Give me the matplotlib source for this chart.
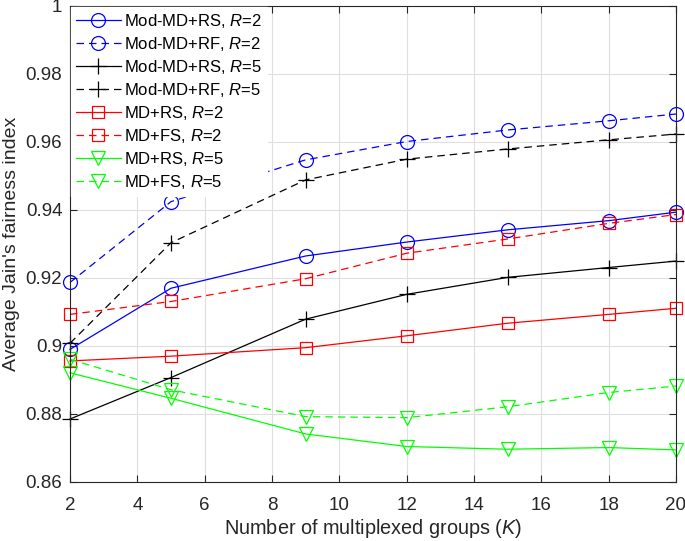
import matplotlib
matplotlib.use("Agg")
import matplotlib.pyplot as plt

plt.rcParams['font.family'] = ['Liberation Sans', 'DejaVu Sans']
plt.rcParams['mathtext.fontset'] = 'custom'
plt.rcParams['mathtext.it'] = 'Liberation Sans:italic'
plt.rcParams['mathtext.rm'] = 'Liberation Sans'

K = [2, 5, 9, 12, 15, 18, 20]

mod_md_rs_r2 = [0.8989, 0.9169, 0.9264, 0.9305, 0.9341, 0.9368, 0.9393]
mod_md_rf_r2 = [0.9186, 0.9424, 0.9547, 0.9601, 0.9635, 0.9662, 0.9682]
mod_md_rs_r5 = [0.8784, 0.8906, 0.9078, 0.9151, 0.9201, 0.9230, 0.9249]
mod_md_rf_r5 = [0.9007, 0.9303, 0.9488, 0.9549, 0.9579, 0.9606, 0.9623]
md_rs_r2 = [0.8955, 0.8969, 0.8994, 0.9029, 0.9066, 0.9092, 0.9110]
md_fs_r2 = [0.9092, 0.9130, 0.9197, 0.9272, 0.9314, 0.9360, 0.9386]
md_rs_r5 = [0.8920, 0.8845, 0.8740, 0.8703, 0.8695, 0.8700, 0.8693]
md_fs_r5 = [0.8960, 0.8870, 0.8791, 0.8788, 0.8820, 0.8862, 0.8881]

labels = [r'Mod-MD+RS, $\mathit{R}$=2', r'Mod-MD+RF, $\mathit{R}$=2',
          r'Mod-MD+RS, $\mathit{R}$=5', r'Mod-MD+RF, $\mathit{R}$=5',
          r'MD+RS, $\mathit{R}$=2', r'MD+FS, $\mathit{R}$=2',
          r'MD+RS, $\mathit{R}$=5', r'MD+FS, $\mathit{R}$=5']

xticks = [2, 4, 6, 8, 10, 12, 14, 16, 18, 20]
yticks = [0.86, 0.88, 0.90, 0.92, 0.94, 0.96, 0.98, 1.0]
yticklabels = ['0.86', '0.88', '0.9', '0.92', '0.94', '0.96', '0.98', '1']

fig = plt.figure(figsize=(6.85, 5.41), dpi=100)
ax = fig.add_axes([70/685, (541-481.5)/541, (676-70)/685, (481.5-6)/541])

dash = (0, (6, 4))
series = [
    (mod_md_rs_r2, 'b', '-', 'o', 10),
    (mod_md_rf_r2, 'b', dash, 'o', 10),
    (mod_md_rs_r5, 'k', '-', '+', 12),
    (mod_md_rf_r5, 'k', dash, '+', 12),
    (md_rs_r2, 'r', '-', 's', 8),
    (md_fs_r2, 'r', dash, 's', 8),
    (md_rs_r5, '#00ff00', '-', 'v', 10),
    (md_fs_r5, '#00ff00', dash, 'v', 10),
]
for (vals, c, ls, m, ms), lab in zip(series, labels):
    ax.plot(K, vals, color=c, linestyle=ls, marker=m, markersize=ms,
            markerfacecolor='none', markeredgecolor=c, markeredgewidth=0.9,
            linewidth=0.9, label=lab, clip_on=False)

ax.set_xlim(2, 20)
ax.set_ylim(0.86, 1.0)
ax.set_xticks(xticks)
ax.set_yticks(yticks)
ax.set_yticklabels(yticklabels)
ax.grid(True, color='#dfdfdf', linewidth=0.8)
ax.set_axisbelow(True)
ax.tick_params(direction='in', top=True, right=True, labelsize=13.5,
               colors='#262626', length=5, width=0.8)
ax.tick_params(axis='x', pad=11.5)
ax.tick_params(axis='y', pad=5.5)
for s in ax.spines.values():
    s.set_color('#262626')
    s.set_linewidth(0.8)

ax.set_xlabel(r'Number of multiplexed groups ($\mathit{K}$)', fontsize=14.3,
              color='#262626')
ax.set_ylabel("Average Jain's fairness index", fontsize=14, color='#262626')
ax.xaxis.set_label_coords(0.5, -0.074)
ax.yaxis.set_label_coords(-0.083, 0.5)

leg = ax.legend(loc='upper left', fontsize=12, frameon=True, fancybox=False,
                edgecolor='white', facecolor='white', framealpha=1,
                handlelength=2.7, handletextpad=0.2, labelspacing=0.3,
                borderpad=0.3, borderaxespad=0.05)

fig.savefig('out.png', dpi=100)
